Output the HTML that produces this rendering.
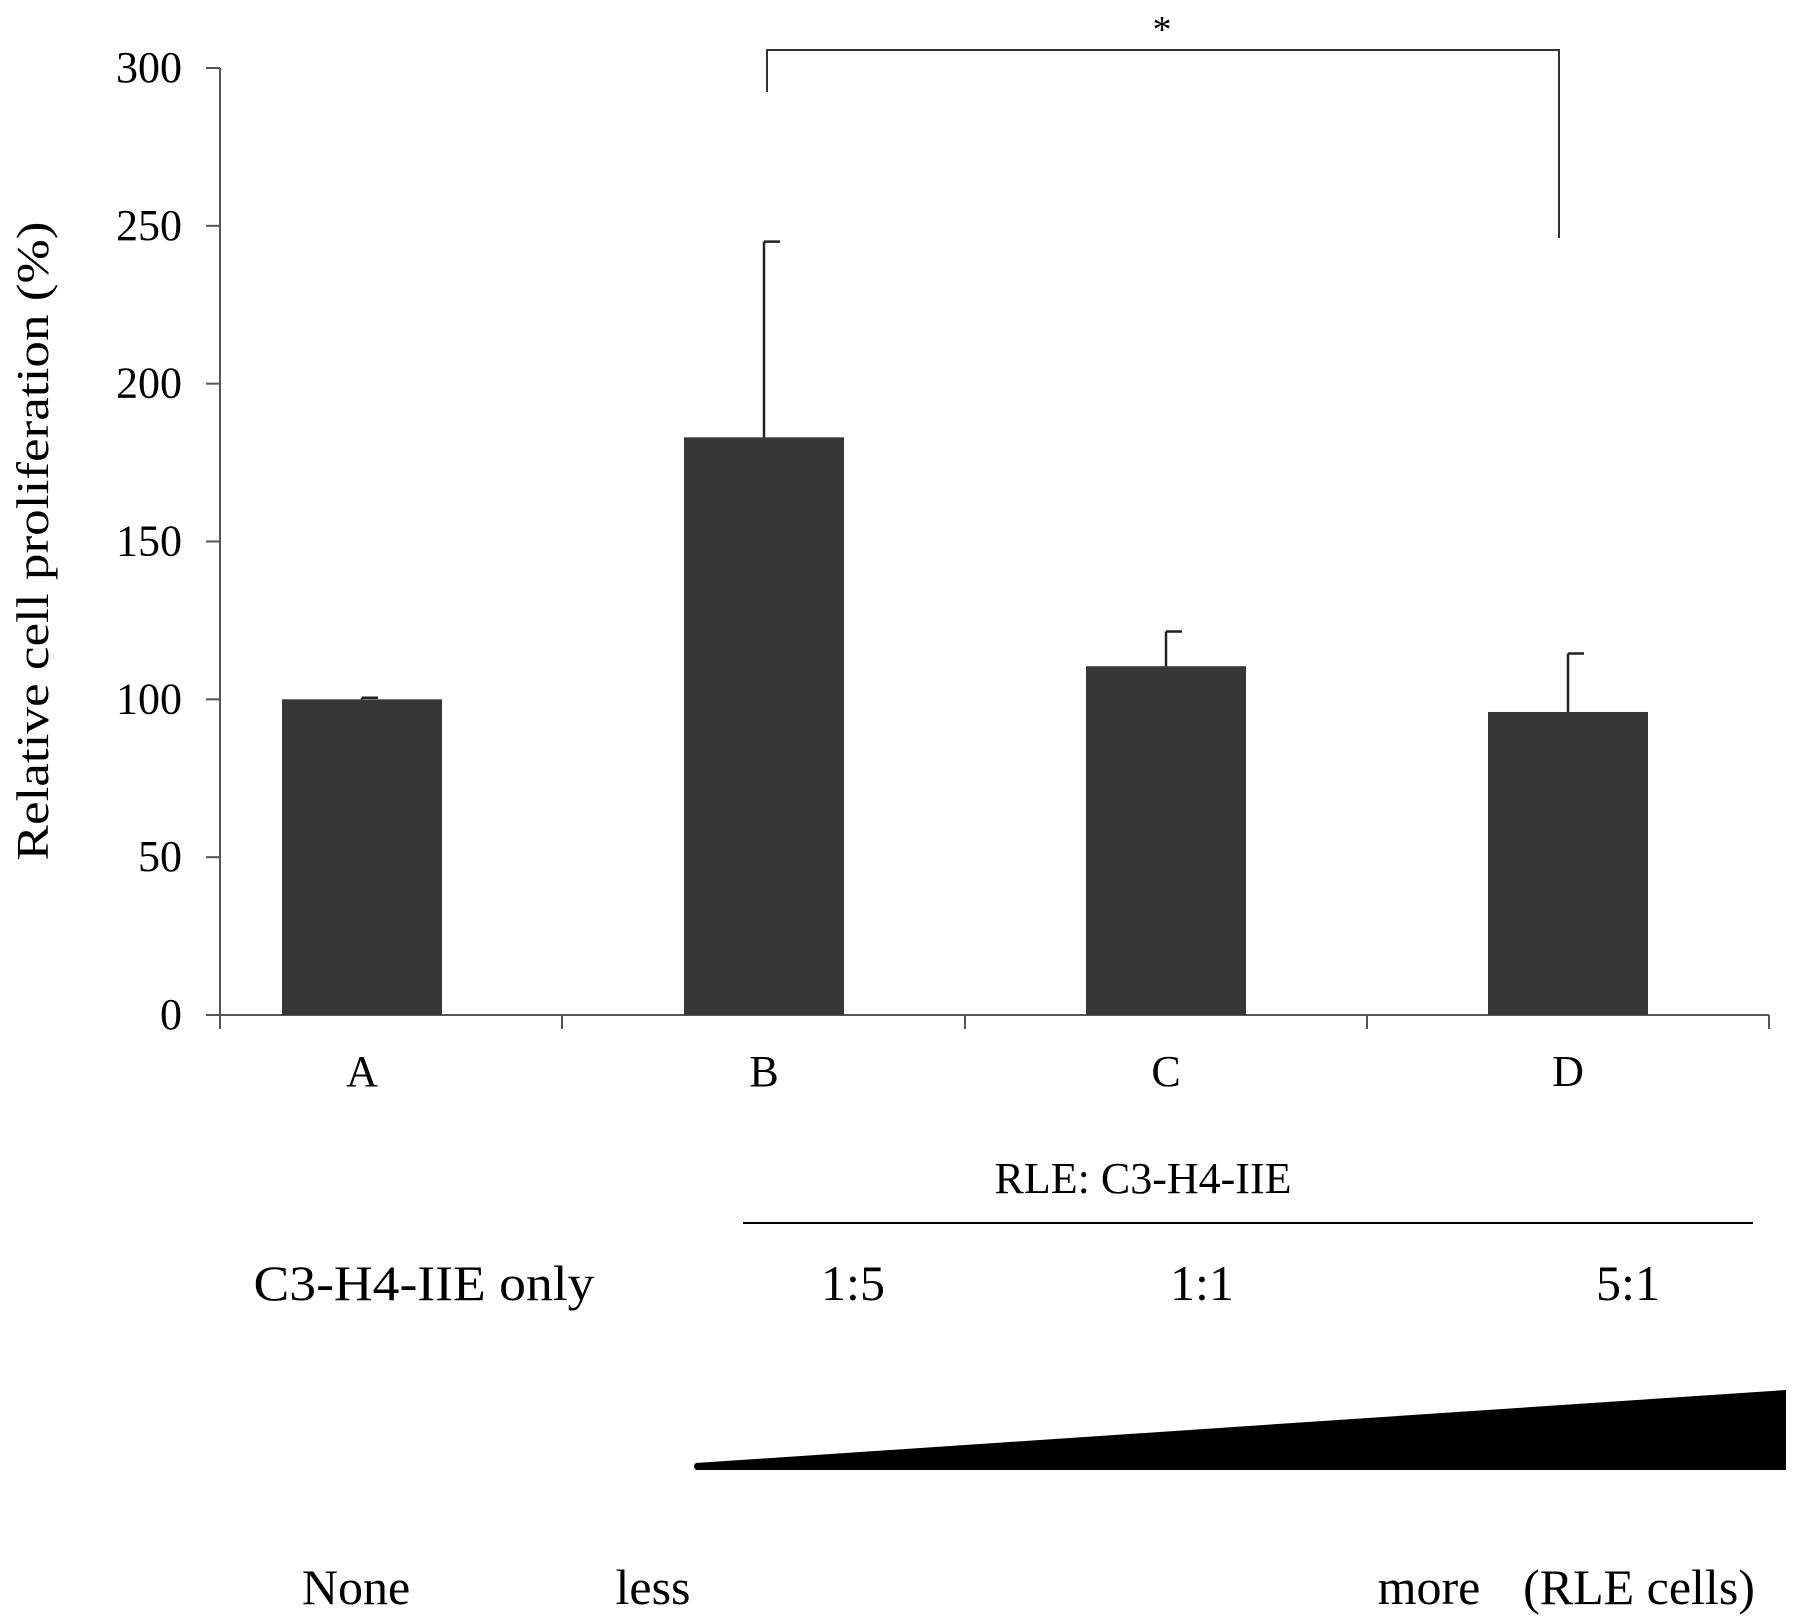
<!DOCTYPE html>
<html><head><meta charset="utf-8"><style>
html,body{margin:0;padding:0;background:#fff}
svg{display:block;font-family:"Liberation Serif",serif}
</style></head><body>
<svg id="chart" width="1795" height="1620" viewBox="0 0 1795 1620">
<g id="g"></g>
</svg>
<script>
const categories = ["A","B","C","D"];
const values = [100, 183, 110.5, 96];
const errors = [0.5, 62, 11, 18.5];
const yTicks = [0,50,100,150,200,250,300];
const ratioLabels = ["C3-H4-IIE only","1:5","1:1","5:1"];

const NS="http://www.w3.org/2000/svg";
const g=document.getElementById('g');
const y0=1015, yTop=68, yMax=300;
function y(v){return y0-(v/yMax)*(y0-yTop);}
const catStart=161, catW=402;
function xc(i){return catStart+catW*(i+0.5);}
function mk(tag,attrs,parent){const e=document.createElementNS(NS,tag);for(const k in attrs)e.setAttribute(k,attrs[k]);(parent||g).appendChild(e);return e;}
function txt(s,x,yy,size,anchor,name,extra){const e=mk('text',Object.assign({x:x,y:yy,'font-size':size,'text-anchor':anchor||'middle',fill:'#000'},extra||{}));e.textContent=s;


return e;}

const ya=mk('line',{x1:220,y1:y(300),x2:220,y2:y0,stroke:'#555','stroke-width':2});


const xa=mk('line',{x1:206,y1:y0,x2:1769,y2:y0,stroke:'#555','stroke-width':2});


yTicks.forEach(t=>{
  const l=mk('line',{x1:206,y1:y(t),x2:220,y2:y(t),stroke:'#555','stroke-width':2});
  
  
  txt(String(t),182,y(t)+14,44,'end','y-tick-label');
});
[220,562,965,1367,1769].forEach(xx=>{
  const l=mk('line',{x1:xx,y1:y0,x2:xx,y2:y0+14,stroke:'#555','stroke-width':2});
  
  
});
const bw=160;
categories.forEach((c,i)=>{
  const cx=xc(i);
  const r=mk('rect',{x:cx-bw/2,y:y(values[i]),width:bw,height:y0-y(values[i]),fill:'#373737'});
  
  
  const top=y(values[i]+errors[i]);
  const e=mk('path',{d:`M${cx},${y(values[i])}V${top}M${cx},${top}H${cx+16}`,stroke:'#222','stroke-width':2.5,fill:'none'});
  
  
  txt(c,cx,1086,44,'middle','x-label-'+c.toLowerCase());
});
const br=mk('path',{d:`M767,92V50H1559V238`,stroke:'#333','stroke-width':2,fill:'none'});


txt('*',1162,42,38,'middle','significance-star');
txt('Relative cell proliferation (%)',0,0,46,'middle','y-axis-title',{transform:'translate(48,541) rotate(-90)',textLength:639,lengthAdjust:'spacingAndGlyphs'});
txt('RLE: C3-H4-IIE',1143,1193,44,'middle','ratio-header');
const hl=mk('line',{x1:743,y1:1223,x2:1753,y2:1223,stroke:'#000','stroke-width':2});


const rx=[424,853,1202,1628];
ratioLabels.forEach((s,i)=>txt(s,rx[i],1300,50,'middle','ratio-label',i==0?{textLength:341,lengthAdjust:'spacingAndGlyphs'}:{}));
const w=mk('path',{d:'M696,1463L1786,1390L1786,1470L696,1470Q692,1466 696,1463Z',fill:'#000'});


txt('None',356,1604,50,'middle','label-none');
txt('less',653,1604,50,'middle','label-less');
txt('more',1429,1604,50,'middle','label-more');
txt('(RLE cells)',1639,1604,50,'middle','label-rle-cells');
</script>
</body></html>
